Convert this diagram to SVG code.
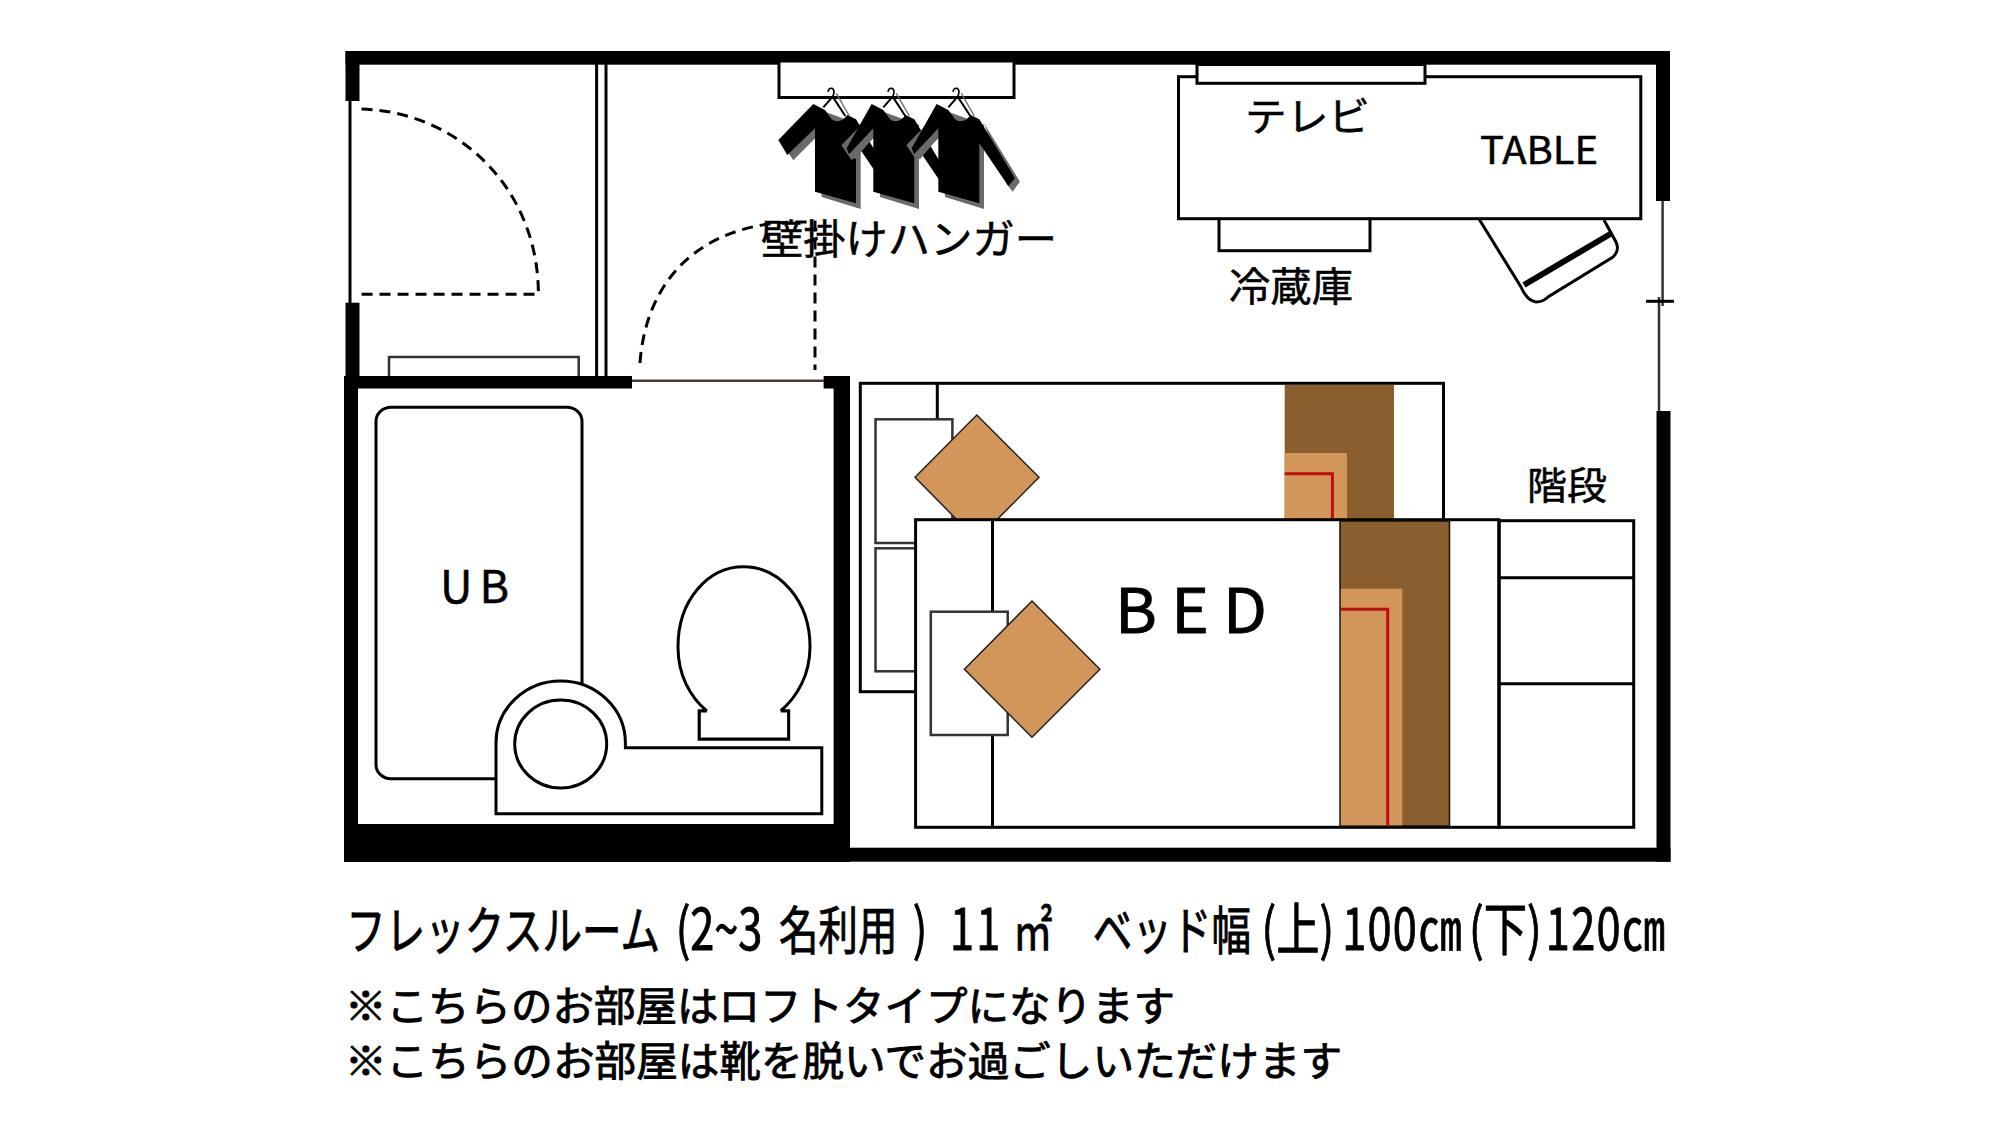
<svg xmlns="http://www.w3.org/2000/svg" width="2000" height="1125" viewBox="0 0 2000 1125">
<style>
text{font-family:"Noto Sans CJK JP","Noto Sans",sans-serif;fill:#000;stroke:#000;stroke-width:.5}
.cap{stroke-width:.9}
.w{fill:#000}
.o{fill:#fff;stroke:#000;stroke-width:3}
.th{fill:#fff;stroke:#333;stroke-width:2.5}
.l{fill:none;stroke:#000;stroke-width:3}
.d{fill:none;stroke:#000;stroke-width:3;stroke-dasharray:11 7}
.br{fill:#8b5e2d}
.lt{fill:#d2965a}
.red{fill:none;stroke:#c00d0d;stroke-width:3}
.dia{fill:#d2965a;stroke:#222;stroke-width:1.5}
</style>
<defs>
<g id="shirtBack">
<path fill="#6a6a6a" d="M144 148L272 194V447L155 411L149 221L70 301L39 256Z"/>
</g>
<g id="shirtFull">
<path d="M130 132L165 150L185 178Q200 190 220 178L232 165L258 178L365 355L345 378L258 250V430L135 395V205L52 285L25 240Z" fill="#000"/>
</g>
<g id="shirtShort">
<path fill="#6a6a6a" d="M62 283L135 205V232L80 298Z"/>
<path d="M130 132L165 150L185 178Q200 190 220 178L232 165L258 178L365 355L345 378L258 250V430L135 395V205L62 283L55 265Z" fill="#000"/>
</g>
<g id="hanger">
<path d="M174 96Q176 83 186 85Q197 91 188 110" fill="none" stroke="#000" stroke-width="5"/>
<path d="M199 100L238 168" fill="none" stroke="#6a6a6a" stroke-width="4"/>
<path d="M188 110L160 142M188 110L226 168" fill="none" stroke="#000" stroke-width="6"/>
<path d="M172 142L192 158" fill="none" stroke="#fff" stroke-width="7"/>
</g>
</defs>

<g id="walls">
<rect class="w" x="345.500" y="51" width="1324.500" height="13.700"/>
<rect class="w" x="345.500" y="51" width="14" height="50"/>
<rect class="w" x="345.500" y="302.700" width="14" height="75"/>
<rect class="w" x="344" y="376" width="288" height="12.500"/>
<rect class="w" x="344" y="376" width="14" height="486"/>
<rect class="w" x="344" y="824" width="506" height="38"/>
<rect class="w" x="833.600" y="376" width="16.400" height="486"/>
<rect class="w" x="823.600" y="376" width="26.400" height="12.500"/>
<rect class="w" x="344" y="847.700" width="1326.500" height="14"/>
<rect class="w" x="1656" y="51" width="14" height="150"/>
<rect class="w" x="1656.500" y="411" width="14" height="450.700"/>
<path class="l" d="M350 101V303" stroke-width="2.500"/>
<path class="l" d="M596.600 64V376M606 64V376" stroke-width="2.500"/>
<path d="M632 380.700H824" fill="none" stroke="#4a3c32" stroke-width="2.500"/>
<path d="M1662.600 201V306M1659 297V411" fill="none" stroke="#333" stroke-width="2.500"/>
<path d="M1646 301.300H1674" fill="none" stroke="#000" stroke-width="3"/>
</g>

<g id="connectors">
<path class="d" d="M361.500 109C460 112 538.400 190 538.400 294.300H361.500"/>
<path class="d" d="M640 363C646 280 700 222 800 222H815V370"/>
</g>

<g id="hanger-rail">
<rect class="o" x="779" y="61" width="235" height="36.500"/>
<g transform="translate(770 60) scale(.3333)">
<use href="#shirtBack"/>
<use href="#shirtFull"/>
<g transform="translate(175 0)"><use href="#shirtBack"/><use href="#shirtShort"/></g>
<g transform="translate(370 0)"><use href="#shirtBack"/><path fill="#6a6a6a" d="M272 190L380 365L358 395L340 372Z"/><use href="#shirtShort"/></g>
<use href="#hanger"/>
<use href="#hanger" transform="translate(180 0)"/>
<use href="#hanger" transform="translate(375 0)"/>
</g>
</g>

<g id="sideboard"><path class="th" d="M389 376V357H578.700V376"/></g>

<g id="table">
<path class="o" stroke-width="2.500" d="M1479 219L1521 287Q1527 301 1536 302Q1543 302 1548 297L1613 257Q1620 250 1616 242L1604 220"/>
<path d="M1524 285L1612 233" fill="none" stroke="#000" stroke-width="6"/>
<rect class="o" x="1219" y="215" width="151" height="35.700"/>
<rect class="o" x="1178.500" y="76.700" width="462.300" height="142" stroke-width="3.400"/>
<rect class="o" x="1197" y="64.500" width="228" height="18.800"/>
</g>

<g id="bed-upper">
<rect class="o" x="860.300" y="383.300" width="583.200" height="308.400"/>
<path class="l" d="M937.300 383.300V419"/>
<rect class="th" x="875.500" y="419.300" width="76.900" height="123.700"/>
<rect class="th" x="875.500" y="548.300" width="76.900" height="123"/>
<rect class="br" x="1284.700" y="385" width="109.300" height="135"/>
<rect class="lt" x="1284.700" y="453" width="62.300" height="67"/>
<path class="red" d="M1284.700 473.700H1332.400V520"/>
<path class="dia" d="M976.800 415L1039 477.300L976.800 540L915 477.300Z"/>
</g>

<g id="bed-lower">
<rect class="o" x="915.600" y="519.700" width="583.200" height="307.600"/>
<path class="l" d="M992.500 519.700V827.300"/>
<rect class="th" x="930.800" y="611.700" width="76.900" height="123.300"/>
<rect class="br" x="1340" y="521" width="109.500" height="305" stroke="#111" stroke-width="1.500"/>
<rect class="lt" x="1340.800" y="588.700" width="61.500" height="236.600"/>
<path class="red" d="M1340.800 609.300H1387.700V826"/>
<path class="dia" d="M1032 601L1099.900 669.300L1032 737.300L964.400 669.300Z"/>
</g>

<g id="stairs">
<rect class="o" x="1499.300" y="520.700" width="134.400" height="306.600"/>
<path class="l" d="M1499.300 577.700H1633.700M1499.300 683.700H1633.700"/>
</g>

<g id="bath">
<rect class="o" x="376" y="407.300" width="206" height="371.400" rx="15" ry="14" stroke-width="2.700"/>
<path class="o" d="M496 813.700V743A64.700 62 0 0 1 625.400 743V747.700H821.800V813.700Z"/>
<ellipse class="o" cx="560.700" cy="744" rx="46" ry="44"/>
<path class="o" d="M699.300 711V739H788.600V711H780.700L706.800 711Z" stroke="none"/>
<path class="o" d="M706.800 711H699.300V739H788.600V711H780.700"/>
<path class="o" d="M706.800 711C690 697 678 675 678 646.700C678 600 708 566.700 743.600 566.700C779 566.700 810 600 810 646.700C810 675 797 697 780.700 711"/>
</g>

<g id="labels">
<text x="440" y="603" font-size="45" textLength="69" lengthAdjust="spacing">U B</text>
<text x="1115" y="633" font-size="62" textLength="152" lengthAdjust="spacingAndGlyphs" style="stroke-width:.9">B E D</text>
<text x="1527" y="499" font-size="38" textLength="80" lengthAdjust="spacingAndGlyphs">階段</text>
<text x="1245" y="131" font-size="40" textLength="125" lengthAdjust="spacingAndGlyphs">テレビ</text>
<text x="1480" y="164.300" font-size="38" textLength="118" lengthAdjust="spacingAndGlyphs">TABLE</text>
<text x="1229" y="301" font-size="40" textLength="124" lengthAdjust="spacingAndGlyphs">冷蔵庫</text>
<text x="761" y="254" font-size="41" textLength="296" lengthAdjust="spacingAndGlyphs">壁掛けハンガー</text>
</g>

<g id="caption">
<text class="cap" transform="scale(.76 1)" y="950" font-size="52"><tspan x="455.500">フレックスルーム</tspan> <tspan x="889" font-size="57">(2~3</tspan> <tspan x="1025">名利用</tspan> <tspan x="1201" font-size="57">)</tspan> <tspan x="1250" font-size="57" letter-spacing="3">11</tspan> <tspan x="1333">㎡</tspan> <tspan x="1438">ベッド幅</tspan> <tspan x="1660" font-size="57">(上)</tspan><tspan x="1766" font-size="57" letter-spacing="1.700">100㎝</tspan> <tspan x="1933" font-size="57">(下)</tspan><tspan x="2034" font-size="57" letter-spacing="1.700">120㎝</tspan></text>
<text class="cap" x="345" y="1021" font-size="41" textLength="830" lengthAdjust="spacingAndGlyphs">※こちらのお部屋はロフトタイプになります</text>
<text class="cap" x="345" y="1076" font-size="41" textLength="997" lengthAdjust="spacingAndGlyphs">※こちらのお部屋は靴を脱いでお過ごしいただけます</text>
</g>
</svg>
